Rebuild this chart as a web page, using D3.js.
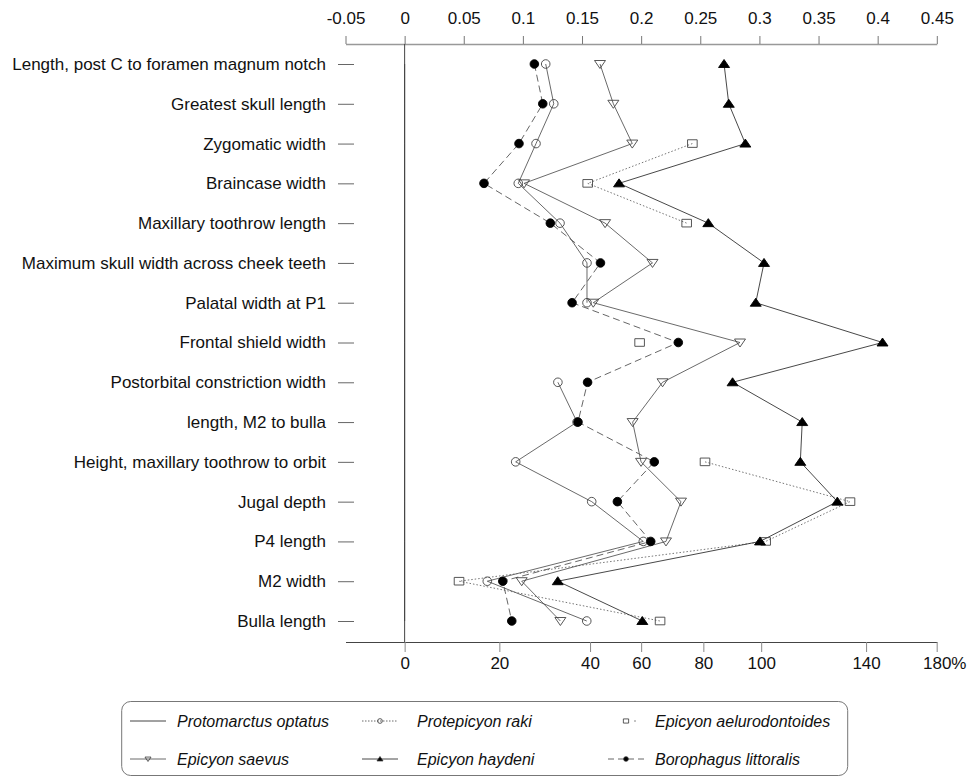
<!DOCTYPE html>
<html><head><meta charset="utf-8">
<script src="https://cdn.jsdelivr.net/npm/d3@7"></script>
<style>
body{margin:0;background:#fff}
text{font-family:"Liberation Sans",Arial,Helvetica,sans-serif;fill:#111}
</style>
</head><body>
<svg id="c" width="968" height="778"></svg>
<script>
// ---------- data ----------
const categories = [
  "Length, post C to foramen magnum notch",
  "Greatest skull length",
  "Zygomatic width",
  "Braincase width",
  "Maxillary toothrow length",
  "Maximum skull width across cheek teeth",
  "Palatal width at P1",
  "Frontal shield width",
  "Postorbital constriction width",
  "length, M2 to bulla",
  "Height, maxillary toothrow to orbit",
  "Jugal depth",
  "P4 length",
  "M2 width",
  "Bulla length"
];
const topTickValues = [-0.05, 0, 0.05, 0.1, 0.15, 0.2, 0.25, 0.3, 0.35, 0.4, 0.45];
const bottomTickLabels = ["0", "20", "40", "60", "80", "100", "140", "180%"];
const bottomTickValues = [0, 0.0801, 0.1568, 0.2000, 0.2526, 0.3015, 0.3902, 0.4499];

const protomarctusOptatus = [0, 0, 0, 0, 0, 0, 0, 0, 0, 0, 0, 0, 0, 0, 0];
const protepicyonRaki = [0.1193, 0.1261, 0.1111, 0.0961, 0.1314, 0.1542, 0.1542, null, 0.1296, 0.1458, 0.0939, 0.1582, 0.2018, 0.0699, 0.1540];
const epicyonAelurodontoides = [null, null, 0.2433, 0.1548, 0.2385, null, null, 0.1987, null, null, 0.2540, 0.3766, 0.3053, 0.0460, 0.2160];
const epicyonSaevus = [0.1652, 0.1765, 0.1925, 0.1010, 0.1695, 0.2096, 0.1595, 0.2836, 0.2181, 0.1928, 0.1999, 0.2337, 0.2210, 0.0990, 0.1317];
const epicyonHaydeni = [0.2701, 0.2741, 0.2881, 0.1813, 0.2568, 0.3039, 0.2969, 0.4041, 0.2773, 0.3362, 0.3346, 0.3659, 0.3005, 0.1295, 0.2010];
const borophagusLittoralis = [0.1097, 0.1168, 0.0967, 0.0671, 0.1232, 0.1656, 0.1416, 0.2314, 0.1547, 0.1466, 0.2111, 0.1799, 0.2081, 0.0830, 0.0906];

const seriesNames = ["Protomarctus optatus", "Protepicyon raki", "Epicyon aelurodontoides",
                     "Epicyon saevus", "Epicyon haydeni", "Borophagus littoralis"];
const seriesValues = [protomarctusOptatus, protepicyonRaki, epicyonAelurodontoides,
                      epicyonSaevus, epicyonHaydeni, borophagusLittoralis];

// ---------- styles ----------
const styles = [
  {marker: null,      stroke: "#444", width: 1,   dash: null,    legendDash: null},
  {marker: "circleO", stroke: "#444", width: 0.8, dash: null,    legendDash: "1.5,1.5"},
  {marker: "square",  stroke: "#666", width: 0.9, dash: "1.5,2", legendDash: "hidden"},
  {marker: "triDown", stroke: "#444", width: 0.8, dash: null,    legendDash: null},
  {marker: "triUp",   stroke: "#333", width: 0.9, dash: null,    legendDash: null},
  {marker: "circleF", stroke: "#555", width: 0.9, dash: "7,4",   legendDash: "6,4"}
];

function markerPath(type, s) {
  const w = 5.5 * s, h = 4 * s;
  switch (type) {
    case "triUp": return `M0,${-h-0.5*s}L${w},${h-0.5*s}L${-w},${h-0.5*s}Z`;
    case "triDown": return `M${-w},${-h+0.5*s}L${w},${-h+0.5*s}L0,${h+0.5*s}Z`;
    case "square": return `M${-4.8*s},${-3.8*s}h${9.6*s}v${7.6*s}h${-9.6*s}Z`;
    default: return d3.symbol(d3.symbolCircle, 58 * s * s)();
  }
}
function markerFill(type) { return (type === "triUp" || type === "circleF") ? "#000" : "none"; }

// ---------- chart ----------
const svg = d3.select("#c");
const x = d3.scaleLinear().domain([-0.05, 0.45]).range([345.5, 936.8]);
const y = d3.scalePoint().domain(categories).range([64, 621]);
const topY = 44, botY = 642;

// top axis
const gTop = svg.append("g").attr("transform", `translate(0,${topY})`)
  .call(d3.axisTop(x).tickValues(topTickValues).tickSize(8).tickSizeOuter(0).tickPadding(12)
        .tickFormat(d => String(d)));
gTop.select(".domain").attr("stroke", "#999").attr("stroke-width", 1.6);
gTop.selectAll(".tick line").attr("stroke", "#777");
gTop.selectAll("text").style("font-size", "17px").attr("fill", "#111");

// bottom axis
const gBot = svg.append("g").attr("transform", `translate(0,${botY})`)
  .call(d3.axisBottom(x).tickValues(bottomTickValues).tickSize(10).tickSizeOuter(0).tickPadding(5)
        .tickFormat((d, i) => bottomTickLabels[i]));
gBot.select(".domain").attr("stroke", "#444").attr("stroke-width", 1);
gBot.selectAll(".tick line").attr("stroke", "#888");
gBot.selectAll("text").style("font-size", "17px").attr("fill", "#111");
gBot.selectAll(".tick text").filter((d, i) => bottomTickLabels[i].endsWith("%"))
  .attr("text-anchor", "start")
  .attr("x", function () {
    const t = svg.append("text").style("font-size", "17px").text(this.textContent.replace("%", ""));
    const w = t.node().getComputedTextLength(); t.remove(); return -w / 2;
  });

// left category axis
const gLeft = svg.append("g").attr("transform", `translate(354,0)`)
  .call(d3.axisLeft(y).tickSize(16).tickPadding(12));
gLeft.select(".domain").remove();
gLeft.selectAll(".tick line").attr("stroke", "#666");
gLeft.selectAll("text").style("font-size", "17px").attr("fill", "#111");

// zero reference line (Protomarctus optatus baseline)
svg.append("line").attr("x1", x(0)).attr("x2", x(0)).attr("y1", topY).attr("y2", botY)
  .attr("stroke", "#444").attr("stroke-width", 1);

// series lines
const line = d3.line().defined(d => d.v != null).x(d => x(d.v)).y(d => y(d.c));
seriesValues.forEach((vals, si) => {
  const st = styles[si];
  const pts = vals.map((v, i) => ({v, c: categories[i]}));
  svg.append("path").datum(pts).attr("d", line).attr("fill", "none")
    .attr("stroke", st.stroke).attr("stroke-width", st.width)
    .attr("stroke-dasharray", st.dash);
});
// markers
seriesValues.forEach((vals, si) => {
  const st = styles[si];
  if (!st.marker) return;
  const pts = vals.map((v, i) => ({v, c: categories[i]})).filter(d => d.v != null);
  svg.append("g").selectAll("path").data(pts).join("path")
    .attr("transform", d => `translate(${x(d.v)},${y(d.c)})`)
    .attr("d", markerPath(st.marker, 1))
    .attr("fill", markerFill(st.marker))
    .attr("stroke", st.marker === "circleF" || st.marker === "triUp" ? "#000" : "#444")
    .attr("stroke-width", 0.9);
});

// ---------- legend ----------
const lg = svg.append("g");
lg.append("rect").attr("x", 121.7).attr("y", 701.5).attr("width", 726).attr("height", 74)
  .attr("rx", 9).attr("fill", "none").attr("stroke", "#777").attr("stroke-width", 1);
const colX = [130, 362, 608], rowY = [721, 759];
seriesNames.forEach((name, si) => {
  const col = si % 3, row = Math.floor(si / 3);
  const x0 = colX[col], yy = rowY[row];
  const st = styles[si];
  const len = 36;
  const g = lg.append("g");
  if (st.legendDash === "hidden") {
    g.append("line").attr("x1", x0 + 26).attr("x2", x0 + 28).attr("y1", yy).attr("y2", yy)
      .attr("stroke", "#888").attr("stroke-width", 1);
  } else {
    g.append("line").attr("x1", x0).attr("x2", x0 + len).attr("y1", yy).attr("y2", yy)
      .attr("stroke", st.stroke).attr("stroke-width", st.width)
      .attr("stroke-dasharray", st.legendDash);
  }
  if (st.marker) {
    g.append("path").attr("transform", `translate(${x0 + len / 2},${yy})`)
      .attr("d", markerPath(st.marker, 0.55))
      .attr("fill", st.marker === "square" ? "#fff" : markerFill(st.marker))
      .attr("stroke", "#333").attr("stroke-width", 0.8);
  }
  g.append("text").attr("x", col === 0 ? 177 : (col === 1 ? 417 : 655)).attr("y", yy)
    .attr("dy", "0.35em").style("font-size", "16px").style("font-style", "italic")
    .text(name);
});
</script>
</body></html>
